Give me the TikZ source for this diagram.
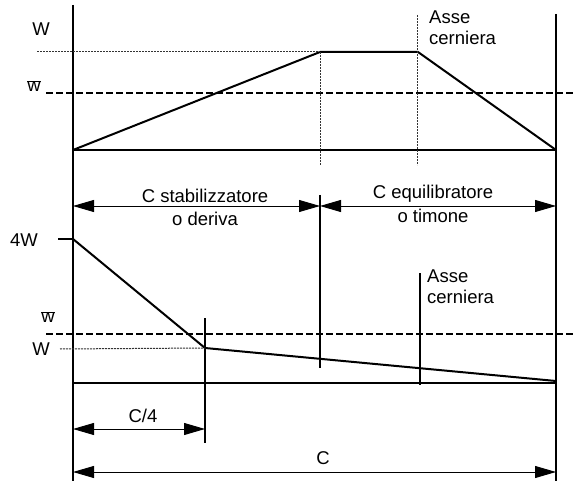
\documentclass[tikz,border=0pt]{standalone}
\usepackage{fontspec}
\setmainfont{Liberation Sans}
\usetikzlibrary{arrows.meta}
\tikzset{
  axis/.style={line width=2pt},
  curve/.style={line width=2pt},
  dimline/.style={line width=0.9pt,{Triangle[length=21pt,width=12pt]}-{Triangle[length=21pt,width=12pt]}},
  wbarline/.style={line width=1.4pt,dash pattern=on 7pt off 3pt},
  fineline/.style={line width=1pt,gray!40!black,dash pattern=on 2pt off 1pt},
  lab/.style={font=\fontsize{18.5}{21}\selectfont,inner sep=0pt},
  thinv/.style={line width=1.2pt}
}
\begin{document}
\begin{tikzpicture}[x=1pt,y=-1pt]
\useasboundingbox (0,0) rectangle (573,481);
% coordinates
\coordinate (LT) at (73,5);
\coordinate (LB) at (73,481);
\coordinate (RT) at (556,14);
\coordinate (RB) at (556,481);
% top chart
\coordinate (A) at (73,150);
\coordinate (B) at (320,52);
\coordinate (Cc) at (418,52);
\coordinate (D) at (556,150);
\draw[axis] (LT) -- (LB);
\draw[axis] (RT) -- (RB);
\draw[axis] (A) -- (D);
\draw[curve] (A) -- (B) -- (Cc) -- (D);
\coordinate (Wd0) at (37,52);
\draw[fineline] (Wd0) -- (B);
\coordinate (wb0) at (46,93);
\coordinate (wb1) at (573,93);
\draw[wbarline] (wb0) -- (wb1);
\coordinate (v1b) at (320,165);
\draw[fineline] (B) -- (v1b);
\coordinate (v2t) at (417,15);
\coordinate (v2b) at (417,165);
\draw[fineline] (v2t) -- (v2b);
\node[lab] (Wt) at (41,29) {W};
\node[lab] (wbt) at (34,86) {$\overline{\hbox{w}}$};
\node[lab,anchor=north west,align=left] (asse1) at (429,11) {Asse\\cerniera};
% middle dimensions
\coordinate (m0) at (73,206);
\coordinate (m1) at (320,206);
\coordinate (m2) at (556,206);
\draw[dimline] (m0) -- (m1);
\draw[dimline] (m1) -- (m2);
\coordinate (vm0) at (320,195);
\coordinate (vm1) at (320,368);
\draw[thinv] (vm0) -- (vm1);
\node[lab] (cs1) at (205,196) {C stabilizzatore};
\node[lab] (cs2) at (205,219) {o deriva};
\node[lab] (ce1) at (433,194) {C equilibratore};
\node[lab] (ce2) at (433,216) {o timone};
% lower chart
\coordinate (P0) at (73,239);
\coordinate (P1) at (205,348);
\coordinate (P2) at (556,381);
\coordinate (tick) at (58,239);
\draw[thinv] (tick) -- (P0);
\draw[curve] (P0) -- (P1) -- (P2);
\node[lab] (fourW) at (24,240) {4W};
\coordinate (c4t) at (205,318);
\coordinate (c4b) at (205,443);
\draw[thinv] (c4t) -- (c4b);
\coordinate (wl0) at (46,334);
\coordinate (wl1) at (573,334);
\draw[wbarline] (wl0) -- (wl1);
\node[lab] (wbl) at (48,317) {$\overline{\hbox{w}}$};
\node[lab] (Wl) at (41,349) {W};
\coordinate (Wl0) at (60,349);
\draw[fineline] (Wl0) -- (P1);
\coordinate (bb0) at (73,383);
\coordinate (bb1) at (556,383);
\draw[axis] (bb0) -- (bb1);
\coordinate (h0) at (420,273);
\coordinate (h1) at (420,385);
\draw[thinv] (h0) -- (h1);
\node[lab,anchor=north west,align=left] (asse2) at (427,270) {Asse\\cerniera};
% bottom dimensions
\coordinate (q0) at (73,429);
\coordinate (q1) at (205,429);
\draw[dimline] (q0) -- (q1);
\node[lab] (c4) at (143,416) {C/4};
\coordinate (r0) at (73,472);
\coordinate (r1) at (556,472);
\draw[dimline] (r0) -- (r1);
\node[lab] (cc) at (323,458) {C};
\end{tikzpicture}
\end{document}
